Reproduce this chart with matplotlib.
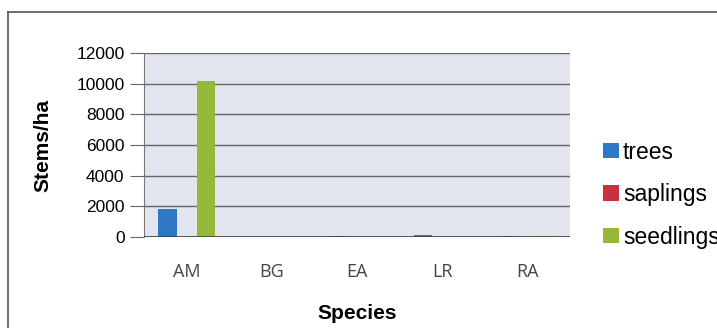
import numpy as np
import matplotlib.pyplot as plt
from matplotlib.lines import Line2D

# Stem densities per species (stems/ha)
species = ['AM', 'BG', 'EA', 'LR', 'RA']
trees = [1850, 0, 50, 150, 50]
saplings = [0, 0, 0, 0, 0]
seedlings = [10200, 0, 0, 0, 50]
yticks = [0, 2000, 4000, 6000, 8000, 10000, 12000]

colors = {'trees': '#2f78c4', 'saplings': '#c8323f', 'seedlings': '#96b83a'}


def main():
    fig = plt.figure(figsize=(7.17, 3.28), dpi=100)
    fig.patch.set_facecolor('white')

    # thin outer frame (top and left edges)
    fig.add_artist(Line2D([8 / 717, 1.0], [1 - 12 / 328, 1 - 12 / 328],
                          color='#555555', lw=1.2, transform=fig.transFigure))
    fig.add_artist(Line2D([8 / 717, 8 / 717], [0, 1 - 12 / 328],
                          color='#555555', lw=1.2, transform=fig.transFigure))

    ax = fig.add_axes([144 / 717, 91 / 328, 426 / 717, 184 / 328])
    ax.set_facecolor('#e3e5ee')

    x = np.arange(len(species))
    w = 0.225
    ax.bar(x - w, trees, w * 0.95, color=colors['trees'], label='trees', zorder=3)
    ax.bar(x, saplings, w * 0.95, color=colors['saplings'], label='saplings', zorder=3)
    ax.bar(x + w, seedlings, w * 0.95, color=colors['seedlings'], label='seedlings', zorder=3)

    ax.set_xlim(-0.5, len(species) - 0.5)
    ax.set_ylim(0, 12000)
    ax.set_yticks(yticks)
    ax.set_xticks(x)
    ax.set_xticklabels(species, fontfamily='Open Sans', fontsize=13, color='#444444')
    ax.tick_params(axis='y', labelsize=12.5, length=10, color='#666666', pad=4)
    ax.tick_params(axis='x', length=0, pad=19)
    for lbl in ax.get_yticklabels():
        lbl.set_fontfamily('Liberation Sans')

    ax.grid(axis='y', color='#666666', lw=1.0, zorder=1)
    for s in ['top', 'right', 'bottom']:
        ax.spines[s].set_visible(False)
    ax.spines['left'].set_color('#777777')
    ax.axhline(0, color='#444444', lw=1.2, zorder=4)

    ax.set_ylabel('Stems/ha', fontfamily='Liberation Sans', fontweight='bold',
                  fontsize=15, labelpad=17)
    ax.set_xlabel('Species', fontfamily='Liberation Sans', fontweight='bold',
                  fontsize=15, labelpad=16)

    handles, labels = ax.get_legend_handles_labels()
    ax.legend(handles, labels, loc='center left', bbox_to_anchor=(1.03, 0.23),
              frameon=False, handlelength=0.7, handleheight=0.65,
              handletextpad=0.15, labelspacing=0.85,
              prop={'family': 'Liberation Sans', 'size': 16.5})

    fig.savefig('out.png', dpi=100)
    plt.close(fig)


if __name__ == "__main__":
    main()
